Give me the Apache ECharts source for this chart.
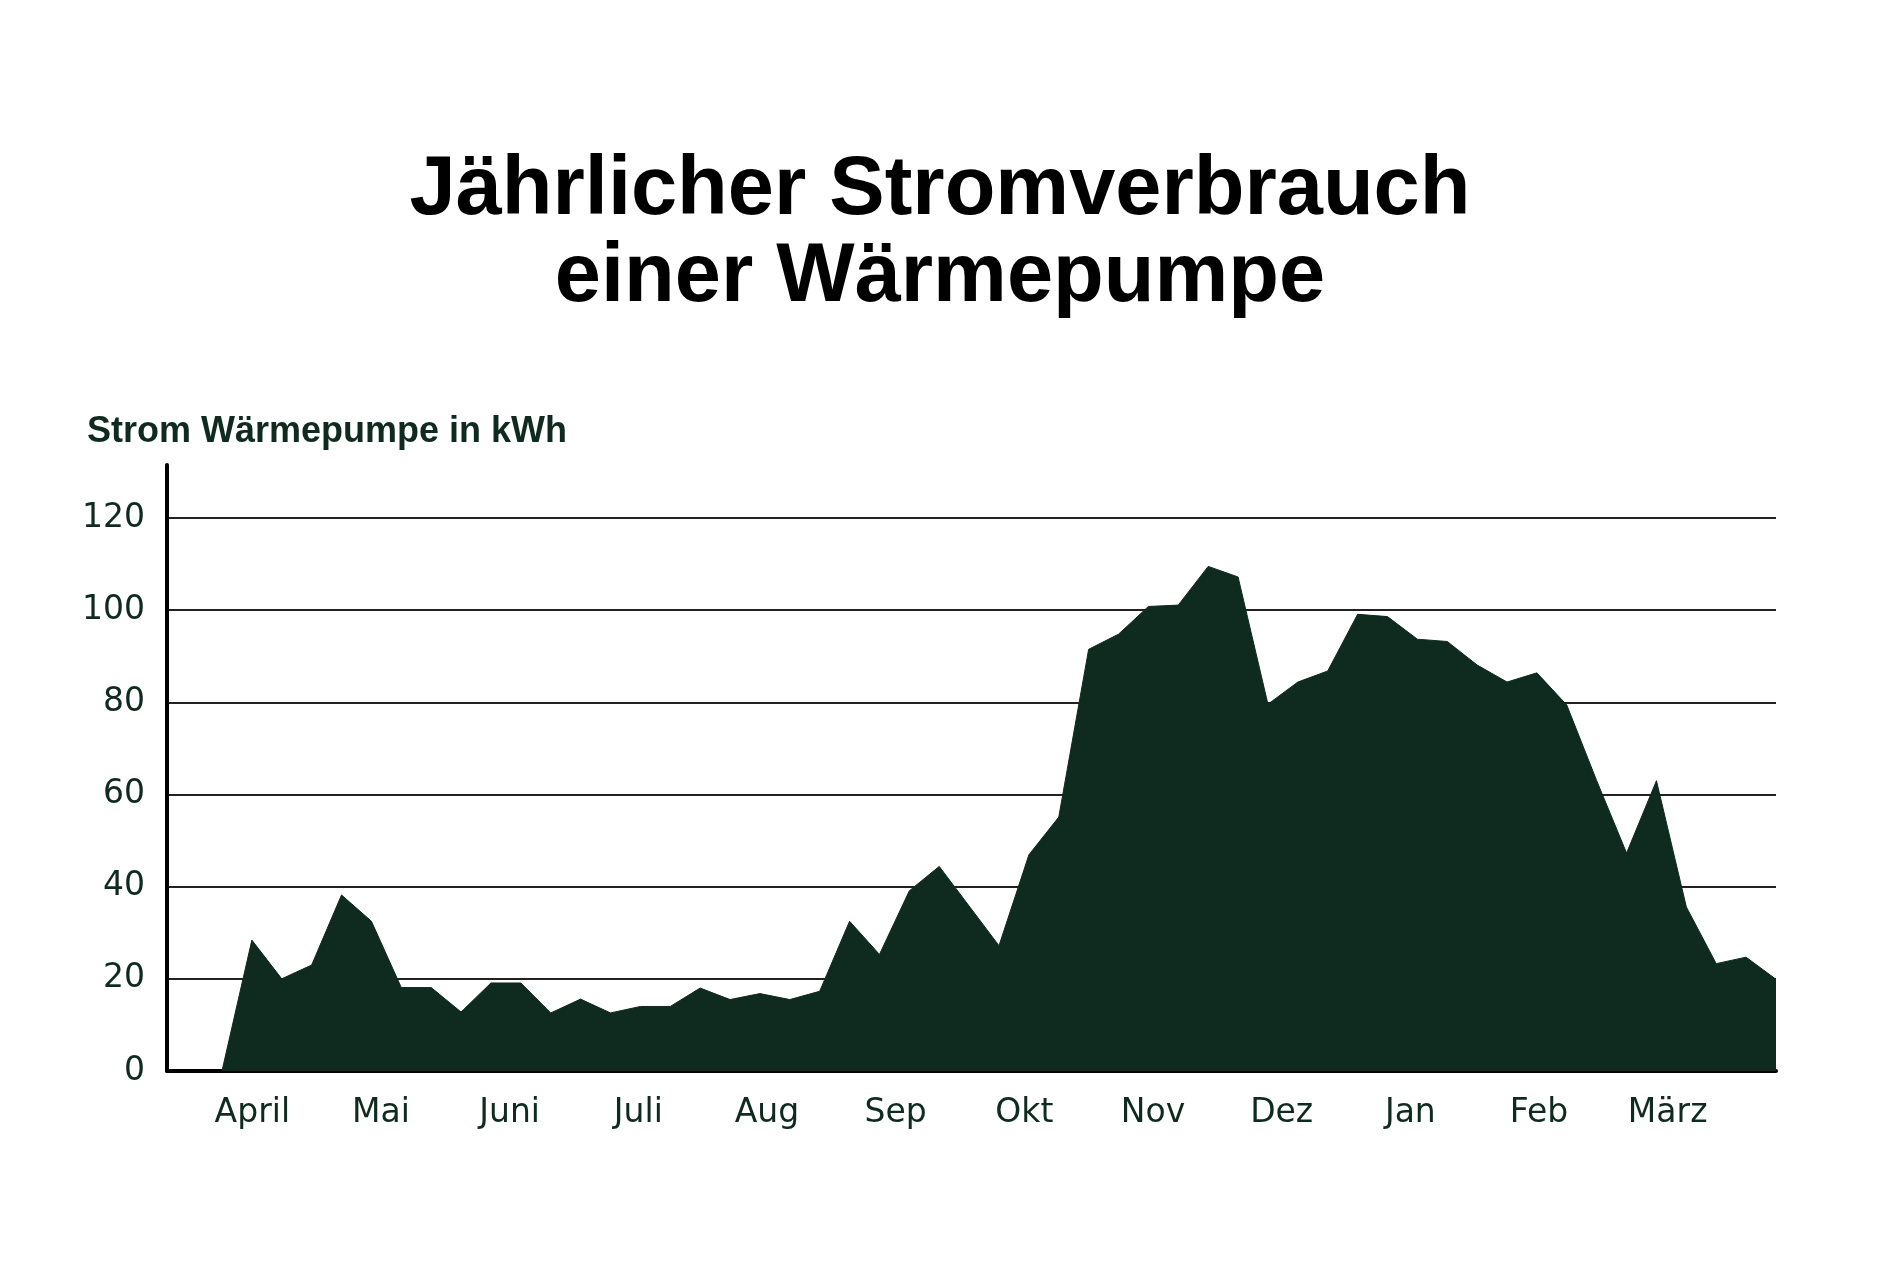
<!DOCTYPE html>
<html>
<head>
<meta charset="utf-8">
<title>Jährlicher Stromverbrauch einer Wärmepumpe</title>
<script src="https://cdn.jsdelivr.net/npm/echarts@6.0.0/dist/echarts.min.js"></script>
<style>
  html, body { margin: 0; padding: 0; background: #fff; }
  #chart { width: 1880px; height: 1287px; }
</style>
</head>
<body>
<div id="chart"></div>
<script>
// weekly electricity use of the heat pump, April -> March (kWh)
const weeklyKwh = [
  0, 28.4, 20.0, 23.0, 38.2, 32.5, 18.1, 18.1, 12.8, 19.1,
  19.1, 12.6, 15.6, 12.6, 14.0, 14.0, 18.0, 15.5, 16.8, 15.5,
  17.3, 32.5, 25.3, 39.1, 44.4, 35.8, 27.2, 46.9, 55.1, 91.5,
  94.8, 100.8, 101.1, 109.5, 107.2, 79.6, 84.4, 86.8, 99.1, 98.6,
  93.7, 93.2, 88.1, 84.4, 86.4, 79.4, 63.0, 47.3, 63.0, 35.6,
  23.3, 24.7, 19.9
];
const months = ['April', 'Mai', 'Juni', 'Juli', 'Aug', 'Sep', 'Okt', 'Nov', 'Dez', 'Jan', 'Feb', 'März'];
const yTicks = [0, 20, 40, 60, 80, 100, 120];
const titleLines = ['Jährlicher Stromverbrauch', 'einer Wärmepumpe'];

const ink = '#0f2a1f';

const chart = echarts.init(document.getElementById('chart'), null, { renderer: 'canvas' });

const titleStyle = {
  fontFamily: 'Liberation Sans',
  fontWeight: 'bold',
  fontSize: 83,
  color: '#000'
};

const option = {
  backgroundColor: '#fff',
  animation: false,
  title: [
    { text: titleLines[0], left: 'center', top: 150, padding: 0, textStyle: titleStyle },
    { text: titleLines[1], left: 'center', top: 237, padding: 0, textStyle: titleStyle },
    {
      text: 'Strom Wärmepumpe in kWh',
      left: 87,
      top: 414,
      padding: 0,
      textStyle: {
        fontFamily: 'Liberation Sans',
        fontWeight: 'bold',
        fontSize: 36,
        color: ink
      }
    }
  ],
  grid: [
    { left: 167, right: 104, top: 465, bottom: 216 },
    // only carries the month labels, which sit in the middle of each month
    { left: 188, right: 148, top: 465, bottom: 216 }
  ],
  xAxis: [
    {
      type: 'value',
      gridIndex: 0,
      min: -1.84,
      max: weeklyKwh.length - 1,
      axisLine: { show: true, onZero: false, lineStyle: { color: '#000', width: 4 } },
      axisTick: { show: false },
      axisLabel: { show: false },
      splitLine: { show: false }
    },
    {
      type: 'category',
      gridIndex: 1,
      data: months,
      boundaryGap: true,
      axisLine: { show: false },
      axisTick: { show: false },
      splitLine: { show: false },
      axisLabel: {
        margin: 26,
        fontFamily: 'DejaVu Sans',
        fontSize: 33,
        color: ink
      }
    }
  ],
  yAxis: [
    {
      type: 'value',
      gridIndex: 0,
      min: 0,
      max: 131.5,
      interval: 20,
      axisLine: { show: true, onZero: false, lineStyle: { color: '#000', width: 4 } },
      axisTick: { show: false },
      axisLabel: {
        margin: 22,
        fontFamily: 'DejaVu Sans',
        fontSize: 33,
        color: ink,
        showMaxLabel: false,
        formatter: v => (yTicks.indexOf(v) >= 0 ? String(v) : '')
      },
      splitLine: {
        show: true,
        showMaxLine: false,
        lineStyle: { color: '#222', width: 2 }
      }
    },
    {
      type: 'value',
      gridIndex: 1,
      show: false
    }
  ],
  series: [
    {
      type: 'line',
      xAxisIndex: 0,
      yAxisIndex: 0,
      data: weeklyKwh.map((v, i) => [i, v]),
      showSymbol: false,
      symbol: 'none',
      lineStyle: { color: ink, width: 1 },
      areaStyle: { color: ink, opacity: 1 },
      itemStyle: { color: ink },
      z: 3
    }
  ]
};

chart.setOption(option);
</script>
</body>
</html>
